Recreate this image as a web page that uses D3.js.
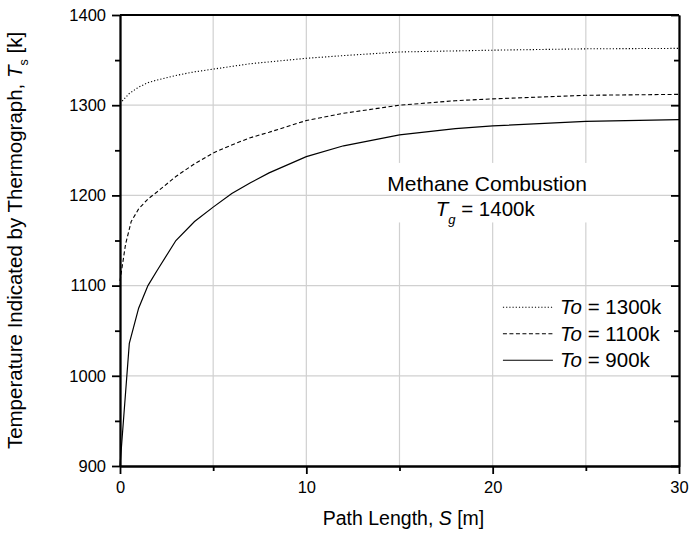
<!DOCTYPE html>
<html>
<head>
<meta charset="utf-8">
<script src="https://d3js.org/d3.v7.min.js"></script>
<style>
  body { margin: 0; background: #fff; }
  text { font-family: "Liberation Sans", Arial, sans-serif; fill: #000; }
  .grid line { stroke: #d0d0d0; stroke-width: 1.2; }
  .axis path, .axis line { stroke: #000; stroke-width: 1.8; }
</style>
</head>
<body>
<div id="chart"></div>
<script>
(function () {

// path length S [m]
const sSolid  = [0, 0.5, 1, 1.5, 2, 3, 4, 5, 6, 7, 8, 10, 12, 15, 18, 20, 25, 30];
const to900   = [900, 1036, 1075, 1100, 1117, 1150, 1171, 1187, 1202, 1214, 1225, 1243, 1255, 1267, 1274, 1277, 1282, 1284];

const sDash   = [0, 0.3, 0.6, 1, 1.5, 2, 3, 4, 5, 6, 7, 8, 10, 12, 15, 18, 20, 25, 30];
const to1100  = [1105, 1146, 1171, 1185, 1196, 1204, 1221, 1235, 1247, 1256, 1264, 1270, 1283, 1291, 1300, 1305, 1307, 1311, 1312];

const sDot    = [0, 0.5, 1, 1.5, 2, 3, 4, 5, 7, 10, 12, 15, 20, 25, 30];
const to1300  = [1302, 1313, 1320, 1325, 1328, 1333, 1337, 1340, 1346, 1352, 1355, 1359, 1361, 1362.5, 1363];

const legendLabels = ["1300k", "1100k", "900k"];
const xMajor = [0, 10, 20, 30];
const xMinor = [5, 15, 25];
const yMajor = [900, 1000, 1100, 1200, 1300, 1400];
const yMinor = [950, 1050, 1150, 1250, 1350];

const margin = {top: 15, right: 10, bottom: 71, left: 120};
const width = 689 - margin.left - margin.right,
      height = 537 - margin.top - margin.bottom;

const svg = d3.select("#chart").append("svg")
    .attr("width", width + margin.left + margin.right)
    .attr("height", height + margin.top + margin.bottom)
  .append("g")
    .attr("transform", "translate(" + margin.left + "," + margin.top + ")");

const x = d3.scaleLinear().domain([0, 30]).range([0, width]);
const y = d3.scaleLinear().domain([900, 1400]).range([height, 0]);

// vertical grid every 5 m
svg.append("g").attr("class", "grid")
  .selectAll("line")
  .data(d3.range(5, 30, 5))
  .join("line")
  .attr("x1", d => x(d)).attr("x2", d => x(d))
  .attr("y1", 0).attr("y2", height);

// white box behind the annotation (hides the vertical grid)
svg.append("rect")
  .attr("x", x(14.2)).attr("y", y(1236))
  .attr("width", x(25.2) - x(14.2)).attr("height", y(1170) - y(1236))
  .attr("fill", "#fff");

// horizontal grid every 100 k
svg.append("g").attr("class", "grid")
  .selectAll("line")
  .data(yMajor.slice(1, -1))
  .join("line")
  .attr("x1", 0).attr("x2", width)
  .attr("y1", d => y(d)).attr("y2", d => y(d));

// the three curves
const line = d3.line()
  .x(d => x(d[0]))
  .y(d => y(d[1]));

const series = [
  {s: sDot,   t: to1300, dash: "1.2,2",  w: 1.1},
  {s: sDash,  t: to1100, dash: "4,2.5",  w: 1.1},
  {s: sSolid, t: to900,  dash: null,     w: 1.2}
];

series.forEach(function (ser) {
  svg.append("path")
    .datum(d3.zip(ser.s, ser.t))
    .attr("fill", "none")
    .attr("stroke", "#000")
    .attr("stroke-width", ser.w)
    .attr("stroke-dasharray", ser.dash)
    .attr("d", line);
});

// axes - major + minor ticks
const gx = svg.append("g").attr("class", "axis")
  .attr("transform", "translate(0," + height + ")")
  .call(d3.axisBottom(x).tickValues(xMajor).tickSize(8).tickSizeOuter(0).tickPadding(7));
svg.append("g").attr("class", "axis")
  .attr("transform", "translate(0," + height + ")")
  .call(d3.axisBottom(x).tickValues(xMinor).tickSize(5).tickSizeOuter(0).tickFormat(""));

const gy = svg.append("g").attr("class", "axis")
  .call(d3.axisLeft(y).tickValues(yMajor).tickFormat(d3.format("d")).tickSize(8).tickSizeOuter(0).tickPadding(6));
svg.append("g").attr("class", "axis")
  .call(d3.axisLeft(y).tickValues(yMinor).tickSize(5).tickSizeOuter(0).tickFormat(""));

// tick label size
gx.selectAll("text").style("font-size", "16.5px");
gy.selectAll("text").style("font-size", "16.5px");

// right side, ticks pointing in
svg.append("g").attr("class", "axis")
  .attr("transform", "translate(" + width + ",0)")
  .call(d3.axisLeft(y).tickValues(yMinor).tickSize(5).tickSizeOuter(0).tickFormat(""));
svg.append("g").attr("class", "axis")
  .attr("transform", "translate(" + width + ",0)")
  .call(d3.axisLeft(y).tickValues(yMajor).tickSize(8).tickSizeOuter(0).tickFormat(""));

// top edge
svg.append("line")
  .attr("x1", 0).attr("x2", width).attr("y1", 0).attr("y2", 0)
  .attr("stroke", "#000").attr("stroke-width", 1.8);

// axis titles
const xt = svg.append("text")
  .attr("x", width / 2 + 4).attr("y", height + 59)
  .attr("text-anchor", "middle")
  .style("font-size", "19.5px");
xt.append("tspan").text("Path Length, ");
xt.append("tspan").style("font-style", "italic").text("S");
xt.append("tspan").text(" [m]");

const yt = svg.append("text")
  .attr("transform", "translate(" + (-98) + "," + (height / 2) + ") rotate(-90)")
  .attr("text-anchor", "middle")
  .style("font-size", "20.5px");
yt.append("tspan").text("Temperature Indicated by Thermograph, ");
yt.append("tspan").style("font-style", "italic").text("T");
yt.append("tspan").attr("dy", 6).style("font-size", "12.5px").text("s");
yt.append("tspan").attr("dy", -6).text(" [k]");

// annotation
svg.append("text")
  .attr("x", x(19.7)).attr("y", y(1205))
  .attr("text-anchor", "middle")
  .style("font-size", "21px")
  .text("Methane Combustion");

const tg = svg.append("text")
  .attr("x", x(19.6)).attr("y", y(1177))
  .attr("text-anchor", "middle")
  .style("font-size", "20.5px");
tg.append("tspan").style("font-style", "italic").text("T");
tg.append("tspan").attr("dy", 8).style("font-size", "13px").style("font-style", "italic").text("g");
tg.append("tspan").attr("dy", -8).text(" = 1400k");

// legend
const leg = svg.append("g").attr("transform", "translate(" + x(20.55) + "," + y(1076) + ")");
series.forEach(function (ser, i) {
  const row = leg.append("g").attr("transform", "translate(0," + (i * 26.5) + ")");
  row.append("line")
    .attr("x1", 0).attr("x2", 50)
    .attr("stroke", "#000")
    .attr("stroke-width", ser.w)
    .attr("stroke-dasharray", ser.dash);
  const t = row.append("text")
    .attr("x", 57).attr("y", 7)
    .style("font-size", "20.5px");
  t.append("tspan").style("font-style", "italic").text("To");
  t.append("tspan").text(" = " + legendLabels[i]);
});

})()
</script>
</body>
</html>
